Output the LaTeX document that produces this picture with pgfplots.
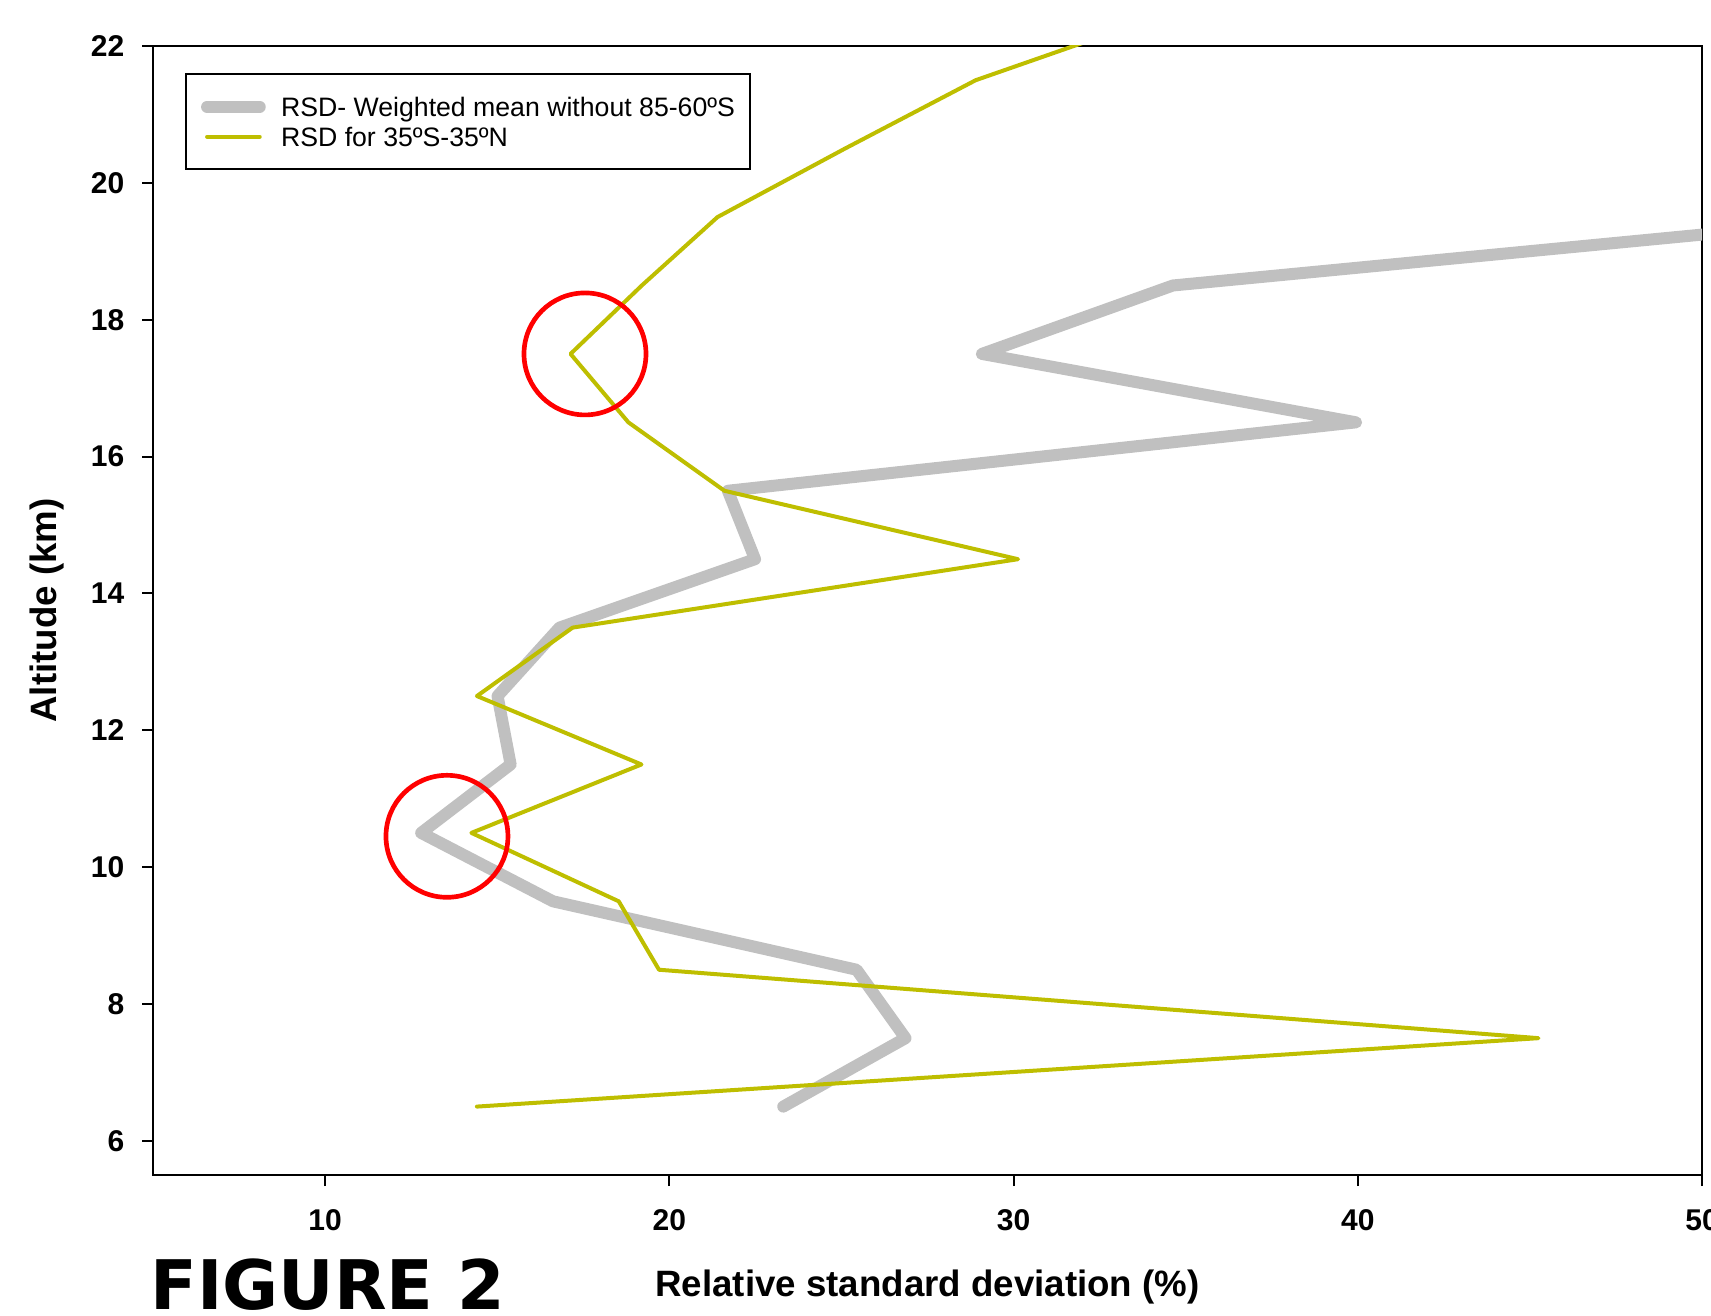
\documentclass[border=0pt]{standalone}
\usepackage{fontspec}
\setmainfont{Liberation Sans}
\newfontfamily\figfont{DejaVu Sans}
\usepackage{pgfplots}
\pgfplotsset{compat=1.18}
\definecolor{rsdgray}{RGB}{192,192,192}
\definecolor{rsdgreen}{RGB}{190,190,0}
\begin{document}
\begin{tikzpicture}
\useasboundingbox (0,0) rectangle (513.3pt,394.5pt);
\begin{axis}[
 name=ax,
 at={(45.9pt,42pt)}, anchor=south west,
 width=464.7pt, height=338.7pt, scale only axis,
 xmin=5, xmax=50, ymin=5.5, ymax=22,
 xtick={10,20,30,40,50}, ytick={6,8,...,22},
 xtick pos=bottom, ytick pos=left, tick align=outside,
 major tick length=3.3pt,
 axis line style={line width=0.6pt},
 tick style={line width=0.6pt, black},
 /pgf/number format/assume math mode=true,
 ticklabel style={font=\fontsize{9}{10}\selectfont\bfseries},
 xticklabel style={yshift=-3.6pt},
 yticklabel style={xshift=-1.8pt},
 xlabel={Relative standard deviation (\%)},
 ylabel={Altitude (km)},
 label style={font=\fontsize{11}{13}\selectfont\bfseries},
 xlabel style={at={(axis description cs:0.5,-0.1072)}, anchor=base},
 ylabel style={at={(axis description cs:-0.0686,0.5)}, anchor=center},
 legend cell align=left,
 legend style={at={(axis description cs:0.0207,0.976)}, anchor=north west,
   draw=black, line width=0.6pt, inner xsep=4.5pt, inner ysep=5.3pt,
   font=\fontsize{8}{9}\selectfont,
   nodes={inner xsep=0pt, inner ysep=0.5pt, text height=7pt, text depth=1pt}},
 legend image code/.code={\draw[#1] (0.8pt,0pt) -- (16.6pt,0pt); \path[draw=none] (0pt,0pt) -- (23pt,0pt);},
]
\addplot[rsdgray, line width=3.6pt, line cap=round, line join=round] coordinates {
 (23.31,6.5) (26.86,7.5) (25.44,8.5) (16.62,9.5) (12.79,10.5) (15.39,11.5)
 (15.01,12.5) (16.81,13.5) (22.49,14.5) (21.70,15.5) (39.95,16.5) (29.08,17.5)
 (34.63,18.5) (55.3,19.5)};
\addlegendentry{RSD- Weighted mean without 85-60ºS}
\addplot[rsdgreen, line width=1.2pt, line join=round, line cap=round] coordinates {
 (14.41,6.5) (45.25,7.5) (19.70,8.5) (18.53,9.5) (14.25,10.5) (19.19,11.5)
 (14.41,12.5) (17.19,13.5) (30.13,14.5) (21.60,15.5) (18.81,16.5) (17.13,17.5)
 (19.2,18.5) (21.4,19.5) (25.1,20.5) (28.9,21.5) (34.6,22.5)};
\addlegendentry{RSD for 35ºS-35ºN}
\addplot[red, line width=1.4pt, only marks, mark=o, mark size=18.3pt, mark options={solid}, forget plot]
 coordinates {(17.55,17.5) (13.54,10.45)};
\end{axis}
\node[anchor=base west, inner sep=0pt, font=\figfont\bfseries\fontsize{20.5}{24}\selectfont]
 at ([xshift=-0.9pt, yshift=-40.35pt]ax.south west) {FIGURE 2};
\end{tikzpicture}
\end{document}
